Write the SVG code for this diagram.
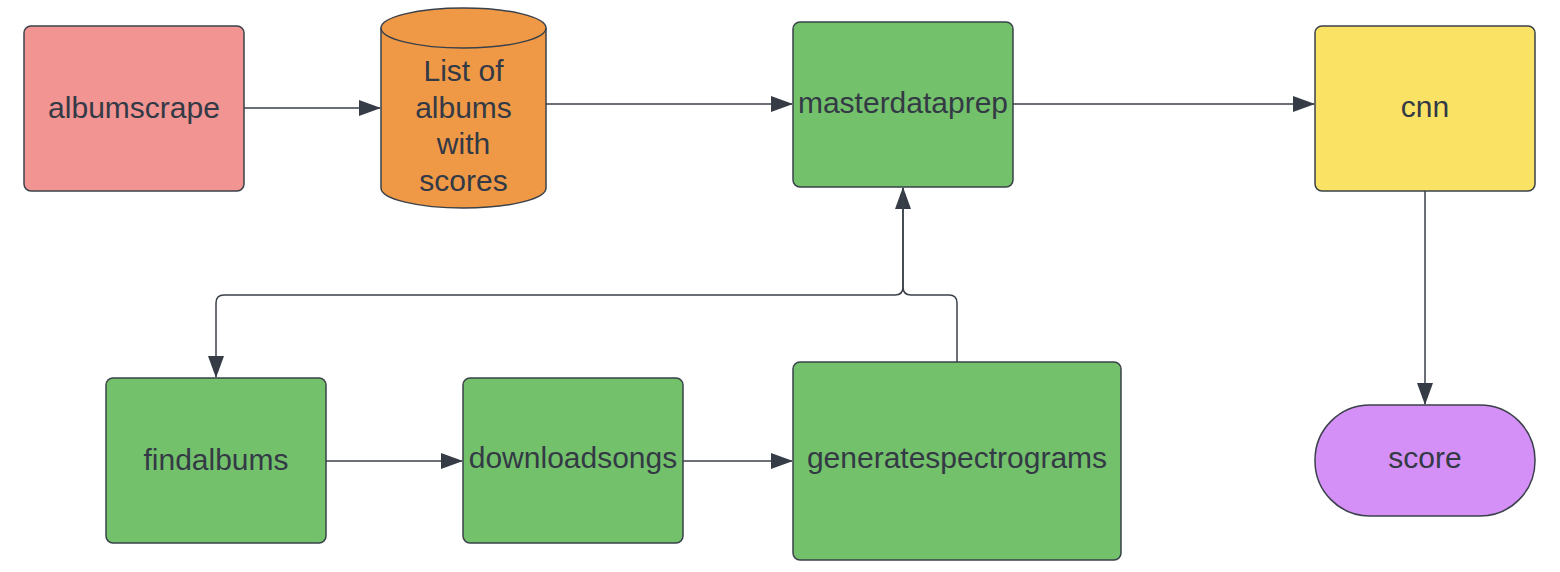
<svg xmlns="http://www.w3.org/2000/svg" width="1560" height="572" viewBox="0 0 1560 572">
<defs>
<style>
.n{stroke:#3a414a;stroke-width:1.5}
.t{font-family:"Liberation Sans",Arial,sans-serif;font-size:30px;fill:#333a45;text-anchor:middle;dominant-baseline:central}
.c{fill:none;stroke:#3a414a;stroke-width:1.5}
.g{fill:#73c16b}
</style>
<marker id="ah" markerUnits="userSpaceOnUse" markerWidth="22" markerHeight="16" refX="21" refY="8" orient="auto">
<path d="M0,0 L22,8 L0,16 Z" fill="#363c45"/>
</marker>
</defs>
<rect width="1560" height="572" fill="#ffffff"/>
<g id="connectors">
<path class="c" d="M244,108 H380" marker-end="url(#ah)"/>
<path class="c" d="M546,104 H792" marker-end="url(#ah)"/>
<path class="c" d="M1013,104 H1314" marker-end="url(#ah)"/>
<path class="c" d="M1425,191 V404" marker-end="url(#ah)"/>
<path class="c" d="M326,461 H462" marker-end="url(#ah)"/>
<path class="c" d="M683,461 H792" marker-end="url(#ah)"/>
<path class="c" d="M957,362 V303 Q957,295 949,295 H911 Q903,295 903,287 V188" marker-end="url(#ah)"/>
<path class="c" d="M903,188 V287 Q903,295 895,295 H224 Q216,295 216,303 V377" marker-end="url(#ah)"/>
</g>
<g id="albumscrape">
<rect class="n" x="24" y="26" width="220" height="165" rx="7" fill="#f19492"/>
<text class="t" x="134" y="107">albumscrape</text>
</g>
<g id="list-of-albums">
<path class="n" fill="#ef9947" d="M381,28 V188 A82.5,20 0 0 0 546,188 V28 A82.5,20 0 0 0 381,28 Z"/>
<path class="n" fill="none" d="M381,28 A82.5,20 0 0 0 546,28"/>
<text class="t" x="463.5" y="70">List of</text>
<text class="t" x="463.5" y="107">albums</text>
<text class="t" x="463.5" y="143">with</text>
<text class="t" x="463.5" y="180">scores</text>
</g>
<g id="masterdataprep">
<rect class="n g" x="793" y="22" width="220" height="165" rx="7"/>
<text class="t" x="903" y="102">masterdataprep</text>
</g>
<g id="cnn">
<rect class="n" x="1315" y="26" width="220" height="165" rx="7" fill="#fae264"/>
<text class="t" x="1425" y="106">cnn</text>
</g>
<g id="findalbums">
<rect class="n g" x="106" y="378" width="220" height="165" rx="7"/>
<text class="t" x="216" y="459">findalbums</text>
</g>
<g id="downloadsongs">
<rect class="n g" x="463" y="378" width="220" height="165" rx="7"/>
<text class="t" x="573" y="457">downloadsongs</text>
</g>
<g id="generatespectrograms">
<rect class="n g" x="793" y="362" width="328" height="198" rx="7"/>
<text class="t" x="957" y="457">generatespectrograms</text>
</g>
<g id="score">
<rect class="n" x="1315" y="405" width="220" height="111" rx="55" fill="#d490f6"/>
<text class="t" x="1425" y="457">score</text>
</g>
</svg>
